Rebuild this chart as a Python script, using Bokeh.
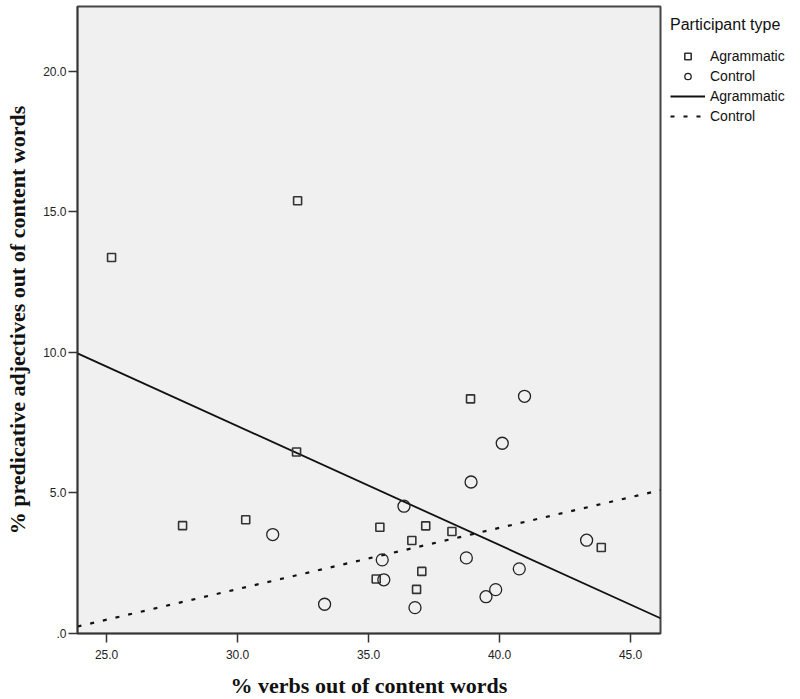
import numpy as np
from bokeh.plotting import figure
from bokeh.models import Range1d, FixedTicker, Legend, LegendItem
from bokeh.embed import file_html
from bokeh.resources import INLINE

# ---- data ----
agram_x = [25.19, 32.29, 32.25, 27.90, 30.31, 38.89, 35.43, 37.18, 36.65, 38.18, 43.88, 37.03, 35.29, 36.83]
agram_y = [13.38, 15.40, 6.46, 3.84, 4.05, 8.35, 3.78, 3.83, 3.31, 3.63, 3.06, 2.21, 1.94, 1.57]
control_x = [31.34, 33.32, 40.95, 40.10, 38.91, 36.35, 35.52, 38.73, 43.32, 40.75, 35.58, 39.85, 39.48, 36.77]
control_y = [3.52, 1.04, 8.44, 6.77, 5.39, 4.53, 2.62, 2.69, 3.32, 2.30, 1.91, 1.56, 1.31, 0.92]

x_ticks = [25, 30, 35, 40, 45]
x_tick_labels = ["25.0", "30.0", "35.0", "40.0", "45.0"]
y_ticks = [0, 5, 10, 15, 20]
y_tick_labels = [".0", "5.0", "10.0", "15.0", "20.0"]

x_limits = (23.89, 46.14)
y_limits = (0.0, 22.31)

group_names = ["Agrammatic", "Control"]
legend_title = "Participant type"
x_label = "% verbs out of content words"
y_label = "% predicative adjectives out of content words"

p = figure(frame_width=583, frame_height=627, output_backend="svg", toolbar_location=None,
           x_range=Range1d(*x_limits), y_range=Range1d(*y_limits),
           min_border_left=77, min_border_right=10, min_border_top=6, min_border_bottom=66)

p.background_fill_color = "#f0f0f0"
p.border_fill_color = "white"
p.outline_line_color = "#444444"
p.outline_line_width = 2
p.xgrid.visible = False
p.ygrid.visible = False

# regression lines computed from the data
ka, ba = np.polyfit(agram_x, agram_y, 1)
kc, bc = np.polyfit(control_x, control_y, 1)
fx = np.array(x_limits)
la = p.line(fx, ka * fx + ba, line_color="#111111", line_width=1.8)
lc = p.line(fx, kc * fx + bc, line_color="#111111", line_width=2.2, line_dash="4 9")

sq = p.scatter(agram_x, agram_y, marker="square", size=8, fill_color=None,
               line_color="#333333", line_width=1.6)
ci = p.scatter(control_x, control_y, marker="circle", size=12, fill_color=None,
               line_color="#222222", line_width=1.3)

# axes
for ax, ticks, labels in ((p.xaxis[0], x_ticks, x_tick_labels), (p.yaxis[0], y_ticks, y_tick_labels)):
    ax.ticker = FixedTicker(ticks=ticks)
    ax.major_label_overrides = {t: l for t, l in zip(ticks, labels)}
    ax.axis_line_color = "#333333"
    ax.axis_line_width = 1.5
    ax.major_tick_line_color = "#333333"
    ax.major_tick_line_width = 1.5
    ax.major_tick_in = 0
    ax.major_tick_out = 9
    ax.minor_tick_line_color = None
    ax.major_label_text_font = "Liberation Sans"
    ax.major_label_text_font_size = "12px"
    ax.major_label_text_color = "#222222"
    ax.axis_label_text_font = "Liberation Serif"
    ax.axis_label_text_font_style = "bold"
    ax.axis_label_text_font_size = "22px"
    ax.axis_label_text_color = "#111111"

p.xaxis.axis_label = x_label
p.yaxis.axis_label = y_label
p.xaxis.major_label_standoff = 7
p.yaxis.major_label_standoff = 2
p.xaxis.axis_label_standoff = 11
p.yaxis.axis_label_standoff = 10

legend = Legend(items=[
    LegendItem(label=group_names[0], renderers=[sq]),
    LegendItem(label=group_names[1], renderers=[ci]),
    LegendItem(label=group_names[0], renderers=[la]),
    LegendItem(label=group_names[1], renderers=[lc]),
], title=legend_title, location="top_left")
legend.margin = 10
legend.padding = 0
legend.border_line_color = None
legend.background_fill_alpha = 0
legend.title_text_font = "Liberation Sans"
legend.title_text_font_size = "16px"
legend.title_text_font_style = "normal"
legend.title_text_color = "#111111"
legend.title_standoff = 14
legend.label_text_font = "Liberation Sans"
legend.label_text_font_size = "14px"
legend.label_text_color = "#111111"
legend.glyph_width = 35
legend.glyph_height = 16
legend.label_height = 16
legend.label_standoff = 5
legend.spacing = 4
p.add_layout(legend, "right")

open("out.html", "w").write(file_html(p, INLINE))
